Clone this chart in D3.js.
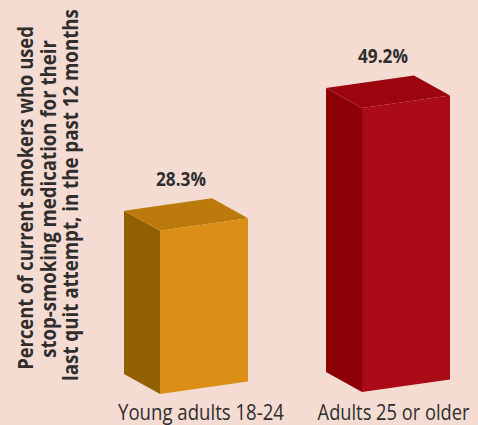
<!DOCTYPE html>
<html>

<head>
	<meta charset="UTF-8">
	<title>Stop-smoking medication use</title>
	<script src="https://cdnjs.cloudflare.com/ajax/libs/d3/7.8.5/d3.min.js"></script>
	<style>
		body {
			padding: 0;
			margin: 0;
			background: #f4dcd2;
		}
		svg {
			display: block;
		}
		text {
			font-family: "Open Sans", sans-serif;
			fill: #2f2d2e;
		}
	</style>
</head>

<body>
	<script>
		var categories = ["Young adults 18-24", "Adults 25 or older"];
		var values = [28.3, 49.2];
		var valueLabels = ["28.3%", "49.2%"];
		var yTitle = [
			"Percent of current smokers who used",
			"stop-smoking medication for their",
			"last quit attempt, in the past 12 months"
		];
		var frontColors = ["#dc8f16", "#ab0a17"];
		var topColors = ["#bb7a0b", "#9c0510"];
		var sideColors = ["#936000", "#8c0005"];

		var w = 478,
			h = 425;

		// box shape
		var frontW = 88,
			slant = 12.5, // front edge rises to the right
			depthX = 36,
			depthY = 20;
		var xFront = d3.scaleOrdinal().domain(categories).range([160, 362]);
		var base = d3.scaleOrdinal().domain(categories).range([394, 392]);
		var labelX = d3.scalePoint().domain(categories).range([201, 393.5]);
		// bar height in pixels
		var y = d3.scaleLinear().domain([0, 50]).range([0, 288.5]);

		var svg = d3.select("body").append("svg")
			.attr("width", w)
			.attr("height", h);

		function poly(pts) {
			return pts.map(function (p) { return p.join(","); }).join(" ");
		}

		// the original type is condensed, so squeeze each text to its measured width
		function squeeze(sel, px, py, rot, width) {
			sel.attr("transform", function (d, i) {
				var sx = width(d, i) / this.getComputedTextLength();
				return "translate(" + px(d, i) + "," + py(d, i) + ") rotate(" + rot + ") scale(" + sx + ",1)";
			});
		}

		var bars = svg.selectAll("g.bar")
			.data(categories)
			.enter().append("g")
			.attr("class", "bar");

		// side
		bars.append("polygon")
			.attr("fill", function (d, i) { return sideColors[i]; })
			.attr("points", function (d, i) {
				var x0 = xFront(d), b = base(d), t = b - y(values[i]);
				return poly([[x0, t], [x0 - depthX, t - depthY], [x0 - depthX, b - depthY], [x0, b]]);
			});
		// top
		bars.append("polygon")
			.attr("fill", function (d, i) { return topColors[i]; })
			.attr("points", function (d, i) {
				var x0 = xFront(d), t = base(d) - y(values[i]);
				return poly([[x0, t], [x0 - depthX, t - depthY],
					[x0 - depthX + frontW, t - depthY - slant], [x0 + frontW, t - slant]]);
			});
		// front
		bars.append("polygon")
			.attr("fill", function (d, i) { return frontColors[i]; })
			.attr("points", function (d, i) {
				var x0 = xFront(d), b = base(d), t = b - y(values[i]);
				return poly([[x0, t], [x0 + frontW, t - slant], [x0 + frontW, b - slant], [x0, b]]);
			});

		// value labels
		bars.append("text")
			.attr("text-anchor", "middle")
			.attr("font-size", 19)
			.attr("font-weight", 700)
			.text(function (d, i) { return valueLabels[i]; })
			.call(squeeze,
				function (d) { return xFront(d) + 21; },
				function (d, i) { return base(d) - y(values[i]) - 45; },
				0,
				function () { return 50; });

		// category labels
		var catLen = [166, 152];
		svg.selectAll("text.cat")
			.data(categories)
			.enter().append("text")
			.attr("class", "cat")
			.attr("text-anchor", "middle")
			.attr("font-size", 21)
			.text(function (d) { return d; })
			.call(squeeze,
				function (d) { return labelX(d); },
				function () { return 420; },
				0,
				function (d, i) { return catLen[i]; });

		// y title, three rotated lines
		var titleX = [33, 55.5, 78],
			titleC = [198, 199, 195],
			titleLen = [344, 318, 372];
		svg.selectAll("text.ytitle")
			.data(yTitle)
			.enter().append("text")
			.attr("class", "ytitle")
			.attr("text-anchor", "middle")
			.attr("font-size", 21)
			.attr("font-weight", 700)
			.text(function (d) { return d; })
			.call(squeeze,
				function (d, i) { return titleX[i]; },
				function (d, i) { return titleC[i]; },
				-90,
				function (d, i) { return titleLen[i]; });
	</script>

</body>

</html>
